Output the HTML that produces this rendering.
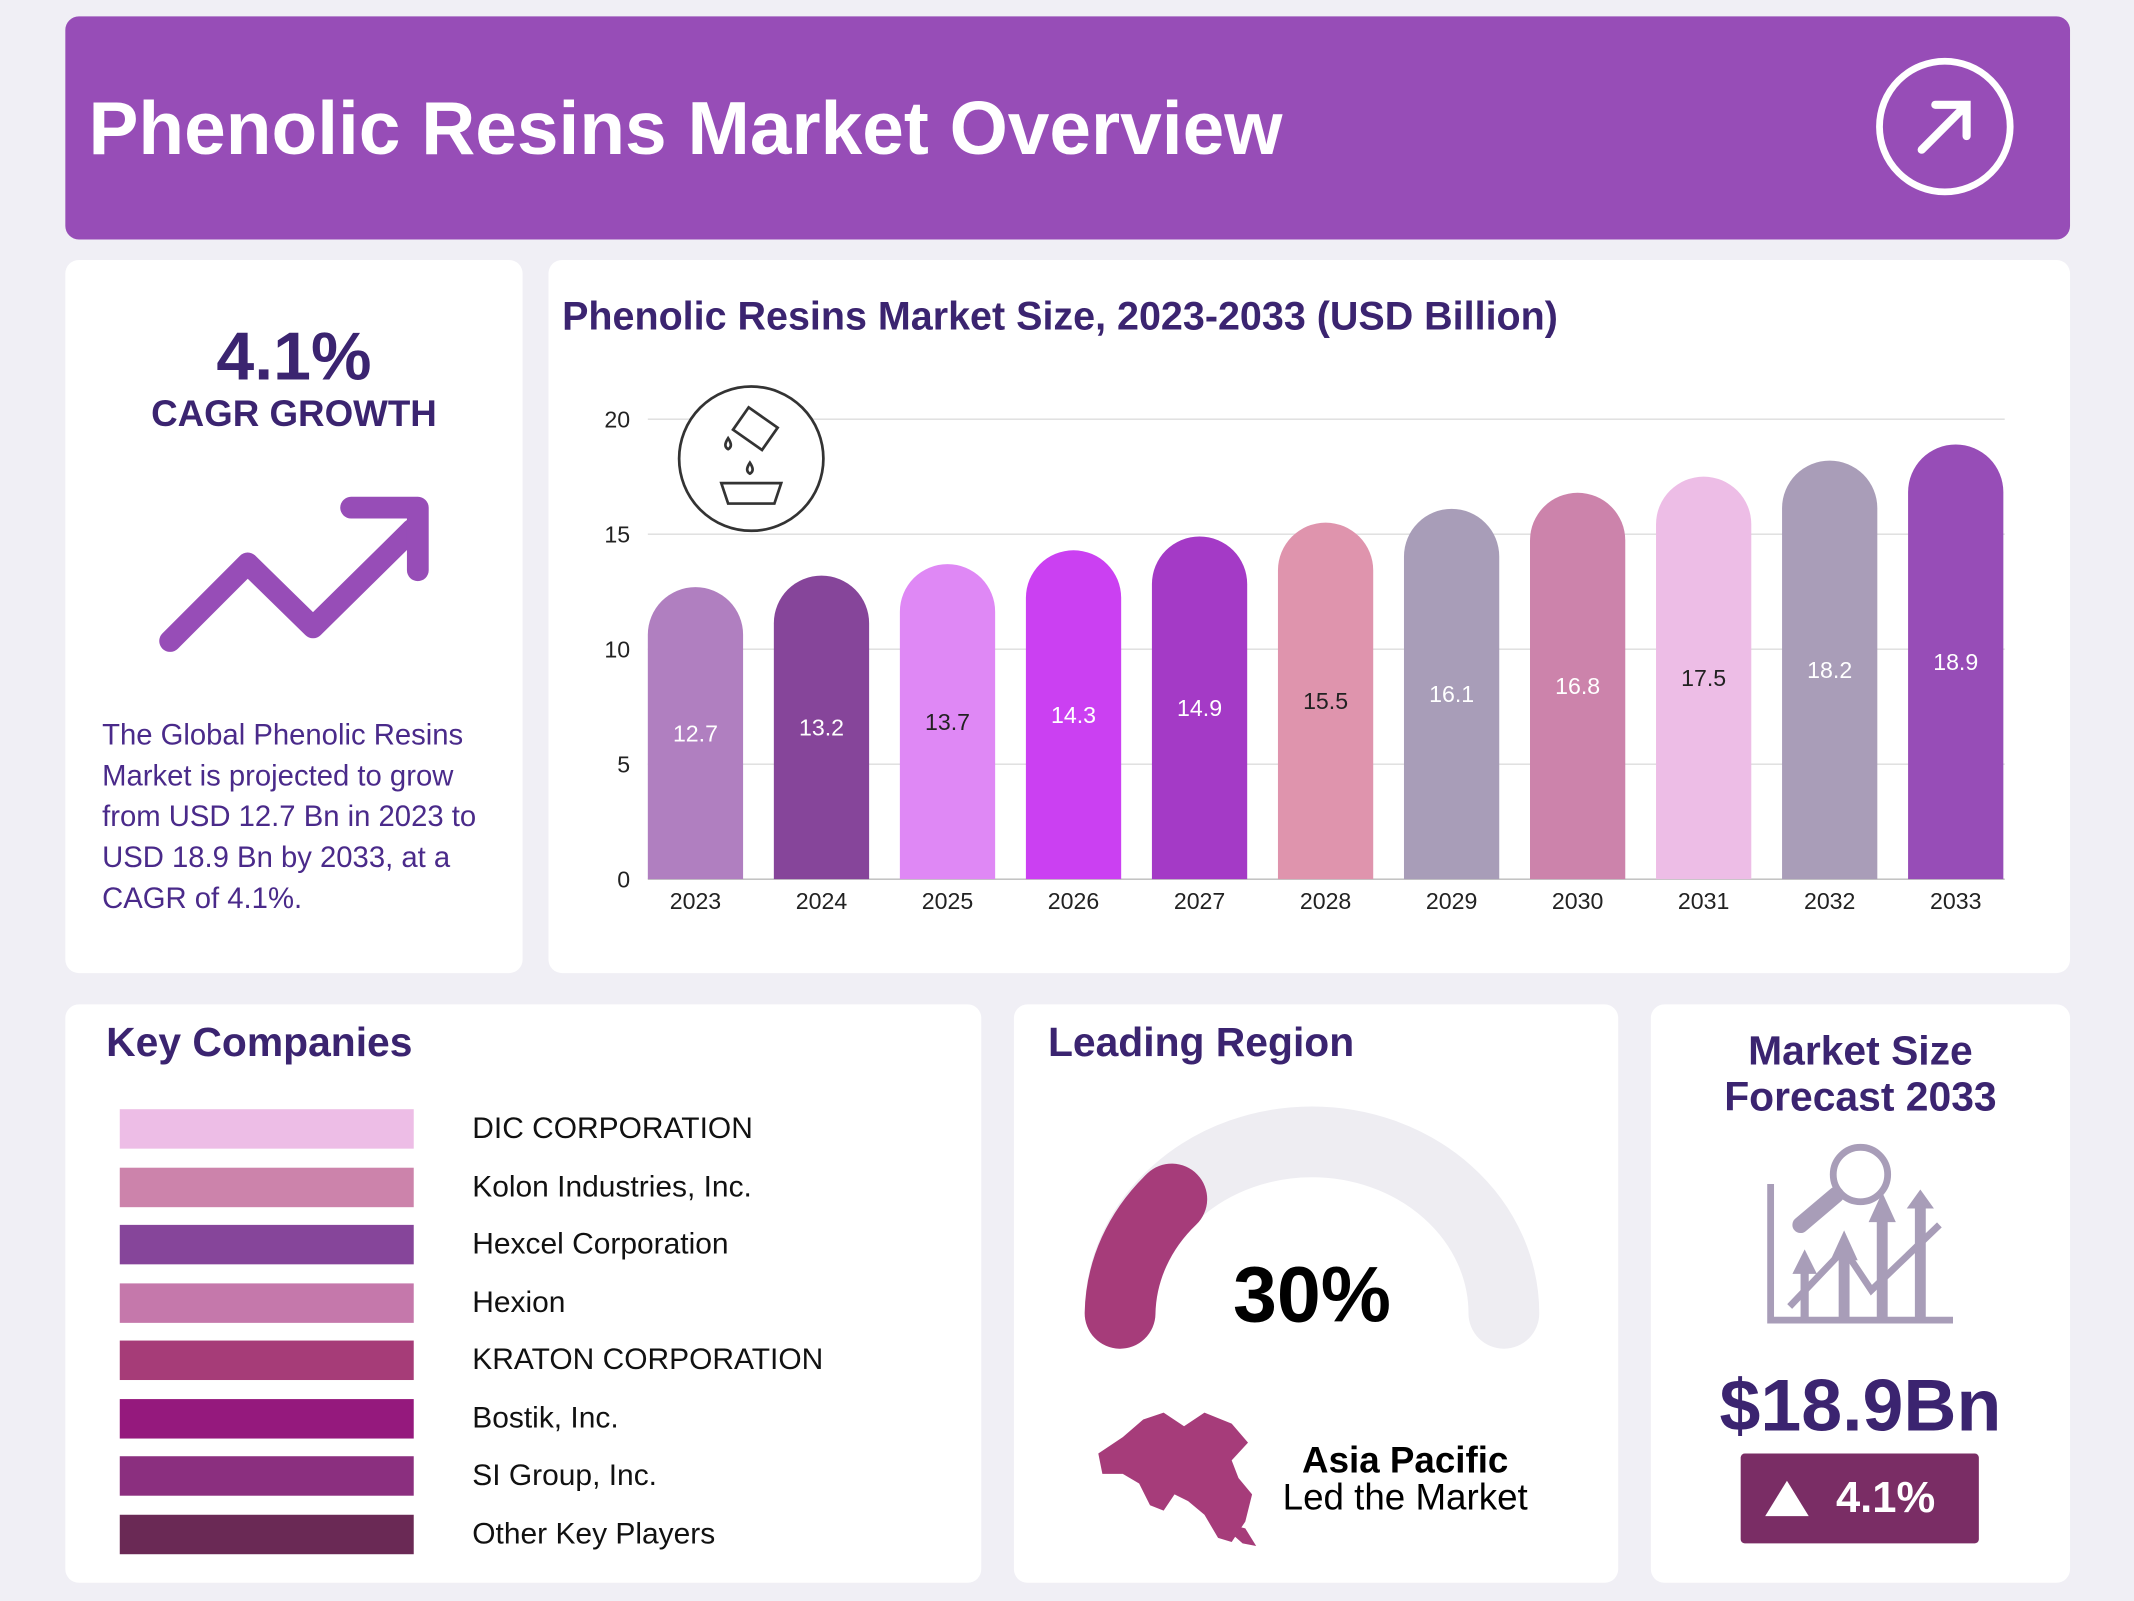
<!DOCTYPE html>
<html><head><meta charset="utf-8">
<style>
html,body{margin:0;padding:0;width:2134px;height:1600px;overflow:hidden;background:#f0eff5;font-family:"Liberation Sans",sans-serif}
#w{position:absolute;left:0;top:0;width:1568px;height:1176px;transform:scale(1.36097);transform-origin:0 0}
.card{position:absolute;background:#fff;border-radius:10px}
.t{position:absolute;white-space:nowrap}
</style></head><body>
<div id="w">
<div class="card" style="left:48px;top:12px;width:1473px;height:164px;background:#974db7">
  <div class="t" style="left:17px;top:50px;font-size:55px;font-weight:bold;color:#fff">Phenolic Resins Market Overview</div>
  <svg style="position:absolute;left:1330px;top:30px" width="102" height="102"><circle cx="51" cy="51" r="48" fill="none" stroke="#fff" stroke-width="5"/><path d="M34 68 L66 36 M44 35 L67 35 L67 58" fill="none" stroke="#fff" stroke-width="6" stroke-linecap="round"/></svg>
</div>

<div class="card" style="left:48px;top:191px;width:336px;height:524px">
  <div class="t" style="left:0;width:336px;text-align:center;top:42px;font-size:50px;font-weight:bold;color:#3b2470">4.1%</div>
  <div class="t" style="left:0;width:336px;text-align:center;top:98px;font-size:27px;font-weight:bold;color:#3b2470">CAGR GROWTH</div>
  <svg style="position:absolute;left:0;top:160px" width="336" height="150"><path d="M77 120 L134 63 L182 110 L255 38" fill="none" stroke="#974db7" stroke-width="16" stroke-linecap="round" stroke-linejoin="round"/><path d="M210 22 L259 22 L259 68" fill="none" stroke="#974db7" stroke-width="16" stroke-linecap="round" stroke-linejoin="round"/></svg>
  <div class="t" style="left:27px;top:334px;font-size:21.5px;line-height:30px;color:#4a2a8a">The Global Phenolic Resins<br>Market is projected to grow<br>from USD 12.7 Bn in 2023 to<br>USD 18.9 Bn by 2033, at a<br>CAGR of 4.1%.</div>
</div>

<div class="card" style="left:403px;top:191px;width:1118px;height:524px">
  <div class="t" style="left:10px;top:26px;font-size:29px;font-weight:bold;color:#3b2470">Phenolic Resins Market Size, 2023-2033 (USD Billion)</div>
</div>
<svg id="chart" style="position:absolute;left:0;top:0" width="1568" height="720"></svg>

<div class="card" style="left:48px;top:738px;width:673px;height:425px">
  <div class="t" style="left:30px;top:12px;font-size:30px;font-weight:bold;color:#3b2470">Key Companies</div>
  <div id="companies"></div>
</div>

<div class="card" style="left:745px;top:738px;width:444px;height:425px">
  <div class="t" style="left:25px;top:12px;font-size:30px;font-weight:bold;color:#3b2470">Leading Region</div>
  <svg style="position:absolute;left:0;top:0" width="444" height="425">
    <path d="M78 227 A141 126 0 0 1 360 227" fill="none" stroke="#eeedf2" stroke-width="52" stroke-linecap="round"/>
    <path d="M78 227 A141 126 0 0 1 116 143" fill="none" stroke="#a63c7a" stroke-width="52" stroke-linecap="round"/>
    <path d="M62 330 L80 318 L95 305 L110 300 L125 310 L140 300 L160 308 L172 322 L160 335 L165 348 L175 360 L170 380 L160 395 L150 392 L140 375 L128 365 L118 360 L110 372 L100 368 L92 352 L80 345 L65 345 Z M150 380 L170 385 L178 398 L168 396 Z" fill="#a63c7a"/>
  </svg>
  <div class="t" style="left:0;width:438px;text-align:center;top:180px;font-size:58px;font-weight:bold;color:#000">30%</div>
  <div class="t" style="left:170px;width:235px;text-align:center;top:320px;font-size:27px;font-weight:bold;color:#000">Asia Pacific</div>
  <div class="t" style="left:170px;width:235px;text-align:center;top:347px;font-size:27px;color:#000">Led the Market</div>
</div>

<div class="card" style="left:1213px;top:738px;width:308px;height:425px">
  <div class="t" style="left:0;width:308px;text-align:center;top:18px;font-size:30px;line-height:34px;font-weight:bold;color:#3b2470">Market Size<br>Forecast 2033</div>
  <svg style="position:absolute;left:80px;top:100px" width="150" height="140">
    <g fill="none" stroke="#a89db8" stroke-width="5"><path d="M8 32 L8 132 L142 132"/><circle cx="74" cy="25" r="20"/><path d="M22 122 L62 80 L82 110 L132 62"/></g>
    <path d="M56 40 L30 62" stroke="#a89db8" stroke-width="12" stroke-linecap="round"/>
    <g fill="#a89db8"><path d="M30 132 V98 H24 L33 80 L42 98 H36 V132Z M58 132 V88 H52 L62 66 L72 88 H66 V132Z M86 132 V60 H80 L90 38 L100 60 H94 V132Z M114 132 V50 H108 L118 36 L128 50 H122 V132Z"/></g>
  </svg>
  <div class="t" style="left:0;width:308px;text-align:center;top:264px;font-size:54px;font-weight:bold;color:#3b2470">$18.9Bn</div>
  <div style="position:absolute;left:66px;top:330px;width:175px;height:66px;background:#7a2d65;border-radius:3px">
    <svg style="position:absolute;left:16px;top:18px" width="36" height="30"><path d="M18 2 L34 28 L2 28Z" fill="#fff"/></svg>
    <div class="t" style="left:70px;top:14px;font-size:32px;font-weight:bold;color:#fff">4.1%</div>
  </div>
</div>
</div>
<script>
const years=["2023","2024","2025","2026","2027","2028","2029","2030","2031","2032","2033"];
const values=[12.7,13.2,13.7,14.3,14.9,15.5,16.1,16.8,17.5,18.2,18.9];
const barColors=["#b07fc0","#86459a","#df88f5","#cb40f2","#a43ac6","#df94ad","#a89db8","#cc83ab","#edbde6","#a99db8","#974db7"];
const labelColors=["#fff","#fff","#222","#fff","#fff","#222","#fff","#fff","#222","#fff","#fff"];
const yTicks=[0,5,10,15,20];
const companies=["DIC CORPORATION","Kolon Industries, Inc.","Hexcel Corporation","Hexion","KRATON CORPORATION","Bostik, Inc.","SI Group, Inc.","Other Key Players"];
const companyColors=["#edbde6","#cc83ab","#86459a","#c578ab","#a63c78","#95197d","#8b2f7f","#6a2955"];

const NS="http://www.w3.org/2000/svg";
const svg=document.getElementById('chart');
const gx0=476,gx1=1473,bx0=464.7,bx1=1483.3,yBase=646,yTop=308,yMax=20;
const y=v=>yBase-(v/yMax)*(yBase-yTop);
const step=(bx1-bx0)/years.length;
const xc=i=>bx0+step*(i+0.5);
function mk(tag,attrs){const e=document.createElementNS(NS,tag);for(const k in attrs)e.setAttribute(k,attrs[k]);svg.appendChild(e);return e;}
yTicks.forEach(t=>{
  const g=mk('line',{x1:gx0,x2:gx1,y1:y(t),y2:y(t),stroke:t===0?'#bbb':'#ddd','stroke-width':1});
  
  
  const l=mk('text',{x:463,y:y(t)+6,'text-anchor':'end','font-size':17,fill:'#222','font-family':'Liberation Sans'});
  l.textContent=t;
  
  
});
const bw=70;
values.forEach((v,i)=>{
  const cx=xc(i),top=y(v),r=bw/2;
  const p=mk('path',{d:`M${cx-r} ${yBase} V${top+r} A${r} ${r} 0 0 1 ${cx+r} ${top+r} V${yBase} Z`,fill:barColors[i]});
  
  
  const tv=mk('text',{x:cx,y:(top+yBase)/2+6,'text-anchor':'middle','font-size':17,fill:labelColors[i],'font-family':'Liberation Sans'});
  tv.textContent=v;
  
  
  const tx=mk('text',{x:cx,y:668,'text-anchor':'middle','font-size':17,fill:'#222','font-family':'Liberation Sans'});
  tx.textContent=years[i];
  
  
});
const ic=mk('g',{});


ic.innerHTML='<circle cx="552" cy="337" r="53" fill="#fff" stroke="#333" stroke-width="2"/><path d="M530 355 h44 l-5 15 h-34 z" fill="none" stroke="#333" stroke-width="2"/><rect x="542" y="305" width="26" height="20" transform="rotate(35 555 315)" fill="none" stroke="#333" stroke-width="2"/><path d="M551 340 q-4 6 0 8 q4 -2 0 -8z M535 322 q-4 6 0 8 q4 -2 0 -8z" fill="none" stroke="#333" stroke-width="2"/>';
const cont=document.getElementById('companies');
companies.forEach((c,i)=>{
  const top=77+i*42.5;
  const b=document.createElement('div');
  b.style.cssText=`position:absolute;left:40px;top:${top}px;width:216px;height:29px;background:${companyColors[i]}`;
  
  
  cont.appendChild(b);
  const t=document.createElement('div');
  t.className='t';
  t.style.cssText=`left:299px;top:${top+1}px;font-size:22px;color:#111`;
  t.textContent=c;
  
  
  cont.appendChild(t);
});
</script>
</body></html>
